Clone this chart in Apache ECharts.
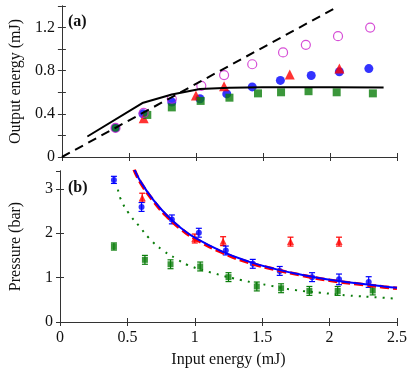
<!DOCTYPE html>
<html>
<head>
<meta charset="utf-8">
<script src="https://cdn.jsdelivr.net/npm/echarts@6/dist/echarts.min.js"></script>
<style>
html,body{margin:0;padding:0;background:#fff;}
#chart{width:415px;height:371px;}
</style>
</head>
<body>
<div id="chart"></div>
<script>
// ---- panel (a): output energy vs input energy ----
var blueAX = [0.40, 0.605, 0.82, 1.03, 1.23, 1.42, 1.63, 1.86, 2.07, 2.29];
var blueAY = [0.27, 0.40, 0.51, 0.54, 0.585, 0.65, 0.71, 0.756, 0.79, 0.82];
var magAX = [0.40, 0.61, 0.82, 1.04, 1.21, 1.42, 1.65, 1.82, 2.06, 2.30];
var magAY = [0.27, 0.41, 0.54, 0.66, 0.76, 0.86, 0.97, 1.04, 1.12, 1.20];
var redAX = [0.61, 1.00, 1.21, 1.70, 2.07];
var redAY = [0.36, 0.57, 0.656, 0.766, 0.82];
var greenAX = [0.40, 0.637, 0.82, 1.035, 1.25, 1.463, 1.635, 1.84, 2.05, 2.32];
var greenAY = [0.27, 0.39, 0.46, 0.52, 0.55, 0.59, 0.60, 0.61, 0.60, 0.59];
var solidAX = [0.19, 0.60, 0.82, 1.03, 1.25, 1.50, 2.00, 2.40];
var solidAY = [0.19, 0.50, 0.58, 0.63, 0.642, 0.647, 0.647, 0.644];
var dashAX = [0, 2.03];
var dashAY = [0, 1.375];

// ---- panel (b): pressure vs input energy ----
var blueBX = [0.40, 0.605, 0.83, 1.03, 1.23, 1.43, 1.63, 1.87, 2.07, 2.29];
var blueBY = [3.20, 2.59, 2.31, 2.01, 1.61, 1.31, 1.15, 1.01, 0.96, 0.90];
var blueBErr = [0.08, 0.1, 0.1, 0.1, 0.1, 0.1, 0.1, 0.1, 0.12, 0.12];
var redBX = [0.61, 1.00, 1.21, 1.71, 2.07];
var redBY = [2.80, 1.88, 1.82, 1.81, 1.81];
var redBErr = [0.1, 0.1, 0.1, 0.1, 0.1];
var greenBX = [0.40, 0.63, 0.82, 1.04, 1.25, 1.46, 1.64, 1.85, 2.06, 2.32];
var greenBY = [1.70, 1.40, 1.30, 1.25, 1.01, 0.80, 0.76, 0.70, 0.70, 0.71];
var greenBErr = [0.08, 0.1, 0.1, 0.1, 0.1, 0.1, 0.1, 0.1, 0.1, 0.1];
var fitBX = [0.55, 0.60, 0.70, 0.80, 0.90, 1.00, 1.20, 1.40, 1.60, 1.80, 2.00, 2.20, 2.40, 2.50];
var blueFitY = [3.45, 3.15, 2.72, 2.38, 2.11, 1.90, 1.59, 1.36, 1.19, 1.06, 0.95, 0.87, 0.80, 0.77];
var redFitY = [3.43, 3.13, 2.70, 2.36, 2.09, 1.88, 1.57, 1.34, 1.18, 1.05, 0.94, 0.86, 0.79, 0.76];
var dotBX = [0.43, 0.45, 0.51, 0.59, 0.66, 0.76, 0.86, 0.95, 1.15, 1.35, 1.54, 1.74, 1.93, 2.13, 2.38, 2.50];
var dotBY = [2.98, 2.77, 2.45, 2.15, 1.89, 1.62, 1.43, 1.28, 1.09, 0.94, 0.83, 0.72, 0.66, 0.60, 0.55, 0.52];

var xTicks = ['0', '0.5', '1', '1.5', '2', '2.5'];

var BLUE = '#0000ff', RED = '#ff0000', GREEN = '#0a7d0a', MAG = '#cc22cc', AXC = '#333';
var FONT = 'Liberation Serif';

function pairs(xs, ys) {
	return xs.map(function (x, i) { return [x, ys[i]]; });
}
function triples(xs, ys, es) {
	return xs.map(function (x, i) { return [x, ys[i], es[i]]; });
}

// error bar drawn via the axis scales
function errBar(color) {
	return function (params, api) {
		var x = api.value(0), y = api.value(1), e = api.value(2);
		var t = api.coord([x, y + e]);
		var b = api.coord([x, y - e]);
		var s = {stroke: color, lineWidth: 1.2};
		return {
			type: 'group',
			children: [
				{type: 'line', shape: {x1: t[0], y1: t[1], x2: b[0], y2: b[1]}, style: s},
				{type: 'line', shape: {x1: t[0] - 3, y1: t[1], x2: t[0] + 3, y2: t[1]}, style: s},
				{type: 'line', shape: {x1: b[0] - 3, y1: b[1], x2: b[0] + 3, y2: b[1]}, style: s}
			]
		};
	};
}

var grids = [
	{left: 57, top: 6, width: 340, height: 151},
	{left: 57, top: 171, width: 340, height: 151}
];

var axLine = {show: true, lineStyle: {color: AXC, width: 1}};
var tickIn = {show: true, inside: true, length: 4, lineStyle: {color: AXC}};
var lbl = {fontFamily: FONT, fontSize: 16, color: '#111'};

function xAx(gi, pos, showLabels, name) {
	return {
		type: 'value', gridIndex: gi, position: pos, min: 0, max: 2.5, interval: 0.5,
		axisLine: axLine, axisTick: tickIn, splitLine: {show: false},
		axisLabel: showLabels ? Object.assign({margin: 8, formatter: function (v) { return xTicks[Math.round(v * 2)]; }}, lbl) : {show: false},
		name: name || '', nameLocation: 'middle', nameGap: 30,
		nameTextStyle: {fontFamily: FONT, fontSize: 16, color: '#111'}
	};
}

var option = {
	animation: false,
	backgroundColor: '#fff',
	grid: grids,
	title: [
		{text: '(a)', left: 63, top: 9, textStyle: {fontFamily: FONT, fontSize: 16, fontWeight: 'bold', color: '#111'}},
		{text: '(b)', left: 63, top: 175, textStyle: {fontFamily: FONT, fontSize: 16, fontWeight: 'bold', color: '#111'}}
	],
	xAxis: [
		xAx(0, 'bottom', false),
		xAx(0, 'top', false),
		xAx(1, 'bottom', true, 'Input energy (mJ)'),
		xAx(1, 'top', false)
	],
	yAxis: [
		{
			type: 'value', gridIndex: 0, position: 'left', min: 0, max: 1.4, interval: 0.2,
			axisLine: axLine, axisTick: tickIn, splitLine: {show: false},
			axisLabel: Object.assign({margin: 7, formatter: function (v) {
				var k = Math.round(v * 10);
				return (k % 4 === 0 && k <= 12) ? (k === 0 ? '0' : (k / 10).toFixed(1)) : '';
			}}, lbl),
			name: 'Output energy (mJ)', nameLocation: 'middle', nameGap: 36,
			nameTextStyle: {fontFamily: FONT, fontSize: 16, color: '#111'}
		},
		{
			type: 'value', gridIndex: 0, position: 'right', min: 0, max: 1.4, interval: 0.2,
			axisLine: axLine, axisTick: tickIn, splitLine: {show: false}, axisLabel: {show: false}
		},
		{
			type: 'value', gridIndex: 1, position: 'left', min: 0, max: 3.4, interval: 1,
			axisLine: axLine, axisTick: tickIn, splitLine: {show: false},
			axisLabel: Object.assign({margin: 7, showMaxLabel: false}, lbl),
			name: 'Pressure (bar)', nameLocation: 'middle', nameGap: 36,
			nameTextStyle: {fontFamily: FONT, fontSize: 16, color: '#111'}
		},
		{
			type: 'value', gridIndex: 1, position: 'right', min: 0, max: 3.4, interval: 1,
			axisLine: axLine, axisTick: tickIn, splitLine: {show: false}, axisLabel: {show: false}
		}
	],
	series: [
		// panel (a)
		{type: 'line', xAxisIndex: 0, yAxisIndex: 0, data: pairs(dashAX, dashAY), showSymbol: false,
			lineStyle: {color: '#000', width: 2, type: [9, 6]}},
		{type: 'line', xAxisIndex: 0, yAxisIndex: 0, data: pairs(solidAX, solidAY), showSymbol: false,
			lineStyle: {color: '#000', width: 2}},
		{type: 'scatter', xAxisIndex: 0, yAxisIndex: 0, data: pairs(blueAX, blueAY), symbol: 'circle', symbolSize: 9,
			itemStyle: {color: BLUE}},
		{type: 'scatter', xAxisIndex: 0, yAxisIndex: 0, data: pairs(redAX, redAY), symbol: 'triangle', symbolSize: 10,
			itemStyle: {color: RED}},
		{type: 'scatter', xAxisIndex: 0, yAxisIndex: 0,
			data: pairs(greenAX, greenAY).map(function (p, i) { return i === 0 ? {value: p, symbol: 'circle'} : p; }),
			symbol: 'rect', symbolSize: 8, itemStyle: {color: GREEN}},
		{type: 'scatter', xAxisIndex: 0, yAxisIndex: 0, data: pairs(magAX, magAY), symbol: 'circle', symbolSize: 9,
			itemStyle: {color: 'rgba(0,0,0,0)', borderColor: MAG, borderWidth: 1.2}},
		// panel (b)
		{type: 'line', xAxisIndex: 2, yAxisIndex: 2, data: pairs(dotBX, dotBY), showSymbol: false, smooth: true,
			lineStyle: {color: GREEN, width: 2, type: [2, 6]}},
		{type: 'line', xAxisIndex: 2, yAxisIndex: 2, data: pairs(fitBX, redFitY), showSymbol: false, smooth: true,
			lineStyle: {color: RED, width: 3.5, type: [9, 4]}},
		{type: 'line', xAxisIndex: 2, yAxisIndex: 2, data: pairs(fitBX, blueFitY), showSymbol: false, smooth: true,
			lineStyle: {color: BLUE, width: 2}},
		{type: 'custom', xAxisIndex: 2, yAxisIndex: 2, data: triples(greenBX, greenBY, greenBErr), renderItem: errBar(GREEN)},
		{type: 'custom', xAxisIndex: 2, yAxisIndex: 2, data: triples(redBX, redBY, redBErr), renderItem: errBar(RED)},
		{type: 'custom', xAxisIndex: 2, yAxisIndex: 2, data: triples(blueBX, blueBY, blueBErr), renderItem: errBar(BLUE)},
		{type: 'scatter', xAxisIndex: 2, yAxisIndex: 2, data: pairs(greenBX, greenBY), symbol: 'rect', symbolSize: 6,
			itemStyle: {color: GREEN}},
		{type: 'scatter', xAxisIndex: 2, yAxisIndex: 2, data: pairs(redBX, redBY), symbol: 'triangle', symbolSize: 7,
			itemStyle: {color: RED}},
		{type: 'scatter', xAxisIndex: 2, yAxisIndex: 2, data: pairs(blueBX, blueBY), symbol: 'circle', symbolSize: 6,
			itemStyle: {color: BLUE}}
	]
};

var chart = echarts.init(document.getElementById('chart'));
chart.setOption(option);
</script>
</body>
</html>
